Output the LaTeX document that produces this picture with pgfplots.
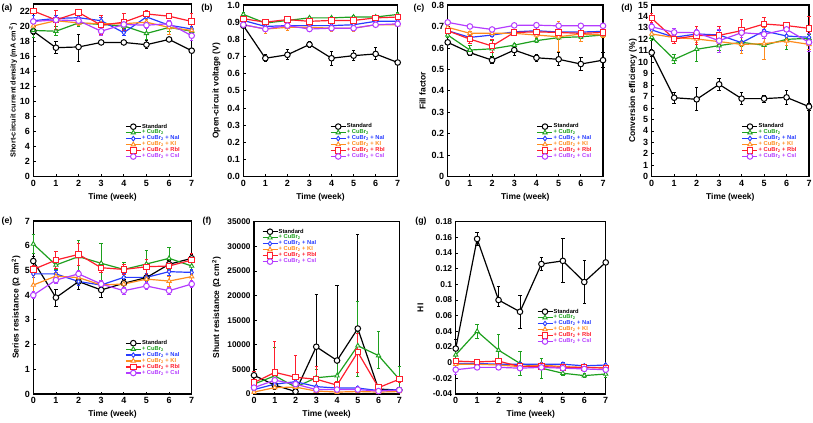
\documentclass[border=0pt]{standalone}
\usepackage{fontspec}
\setmainfont{Liberation Sans}
\usepackage{pgfplots}
\pgfplotsset{compat=1.18}
\definecolor{cstd}{RGB}{0,0,0}
\definecolor{ccub}{RGB}{30,160,30}
\definecolor{cnai}{RGB}{40,60,255}
\definecolor{cki}{RGB}{255,140,30}
\definecolor{crbi}{RGB}{255,30,45}
\definecolor{ccsi}{RGB}{180,60,255}
\pgfplotsset{
  panel/.style={
    scale only axis, clip=false,
    xmin=0, xmax=7, xtick={0,1,2,3,4,5,6,7},
    axis line style={line width=1.4bp},
    tick align=inside, xtick pos=bottom, ytick pos=left,
    major tick length=2.5bp, tick style={line width=0.8bp, black},
    /pgf/number format/assume math mode=true,
    tick label style={font=\bfseries\fontsize{9}{10}\selectfont},
    label style={font=\bfseries\fontsize{8.5}{9}\selectfont},
    xlabel={Time (week)},
    legend cell align=left,
    legend style={draw=none, fill=none, inner sep=0pt, row sep=-0.8bp,
      font=\bfseries\fontsize{5.8}{6.5}\selectfont, anchor=north west,
      nodes={inner sep=0.6bp}},
    legend image code/.code={\draw[mark repeat=2,mark phase=2] plot coordinates {(0bp,0bp)(7.5bp,0bp)(15bp,0bp)};},
    error bars/y dir=both, error bars/y explicit,
    error bars/error bar style={line width=0.9bp, solid},
    error bars/error mark options={rotate=90, mark size=1.7bp, line width=0.9bp},
  },
  sstd/.style={cstd, line width=1.2bp, mark=*, mark size=2.8bp, mark options={fill=white, line width=1bp}},
  scub/.style={ccub, line width=1.2bp, mark=triangle*, mark size=2.5bp, mark options={fill=white, line width=0.9bp}},
  snai/.style={cnai, line width=1.2bp, mark=diamond*, mark size=2.3bp, mark options={fill=white, line width=0.9bp}},
  ski/.style={cki, line width=1.2bp, mark=triangle*, mark size=2.5bp, mark options={fill=white, line width=0.9bp}},
  srbi/.style={crbi, line width=1.2bp, mark=square*, mark size=2.7bp, mark options={fill=white, line width=1bp}},
  scsi/.style={ccsi, line width=1.2bp, mark=*, mark size=2.8bp, mark options={fill=white, line width=1bp}},
}
\newcommand{\leg}{\legend{\textcolor{cstd}{Standard},\textcolor{ccub}{+ CuBr\textsubscript{2}},\textcolor{cnai}{+ CuBr\textsubscript{2} + NaI},\textcolor{cki}{+ CuBr\textsubscript{2} + KI},\textcolor{crbi}{+ CuBr\textsubscript{2} + RbI},\textcolor{ccsi}{+ CuBr\textsubscript{2} + CsI}}}
\begin{document}
\begin{tikzpicture}[x=1bp,y=1bp]
\useasboundingbox (0,0) rectangle (813,422);
\tikzset{plab/.style={font=\bfseries\fontsize{8.8}{9}\selectfont}}
\node[plab] at (7,414) {(a)};
\node[plab] at (207,414) {(b)};
\node[plab] at (419,414) {(c)};
\node[plab] at (627,414) {(d)};
\node[plab] at (7,201) {(e)};
\node[plab] at (207,201) {(f)};
\node[plab] at (421,201) {(g)};
% (a)
\begin{axis}[panel, at={(33.3bp,245.3bp)}, anchor=south west, width=158.4bp, height=172.5bp,
  ymin=0, ymax=23, ytick={0,2,...,22},
  ylabel={Short-circuit current density (mA cm\textsuperscript{-2})},
  ylabel style={at={(axis description cs:-0.128,0.5)}, anchor=center, font=\bfseries\fontsize{7.3}{8}\selectfont},
  legend style={at={(axis description cs:0.579,0.311)}}]
\addplot[sstd] coordinates {(0,19.4)+-(0,0.4) (1,17.2)+-(0,0.8) (2,17.3)+=(0,1.6)-=(0,2.0) (3,17.9)+-(0,0.3) (4,17.9)+-(0,0.2) (5,17.6)+-(0,0.5) (6,18.3)+-(0,0.3) (7,16.8)+-(0,0.3)};
\addplot[scub] coordinates {(0,19.5)+-(0,1.0) (1,19.4)+-(0,0.6) (2,20.5)+-(0,0.5) (3,20.3)+-(0,0.3) (4,20.1)+-(0,0.3) (5,19.1)+-(0,0.8) (6,19.9)+-(0,0.5) (7,19.4)+-(0,0.4)};
\addplot[snai] coordinates {(0,20.8)+-(0,0.7) (1,21.1)+-(0,0.4) (2,21.2)+-(0,0.3) (3,20.8)+-(0,0.4) (4,19.2)+-(0,0.4) (5,21.3)+-(0,0.3) (6,20.2)+-(0,0.4) (7,19.7)+-(0,0.3)};
\addplot[ski] coordinates {(0,20.1)+-(0,0.4) (1,20.8)+-(0,0.3) (2,20.5)+-(0,0.4) (3,20.4)+-(0,0.3) (4,20.4)+-(0,0.3) (5,20.6)+-(0,0.3) (6,19.9)+-(0,0.9) (7,19.5)+-(0,0.4)};
\addplot[srbi] coordinates {(0,22.1)+-(0,0.3) (1,20.9)+-(0,1.3) (2,21.9)+-(0,0.3) (3,20.2)+-(0,1.3) (4,20.6)+-(0,1.1) (5,21.7)+-(0,0.4) (6,21.4)+-(0,0.3) (7,20.7)+-(0,1.0)};
\addplot[scsi] coordinates {(0,20.7)+-(0,0.3) (1,20.9)+-(0,0.3) (2,20.8)+-(0,0.3) (3,19.4)+-(0,0.6) (4,20.3)+-(0,0.3) (5,20.2)+-(0,0.4) (6,20.4)+-(0,0.4) (7,18.8)+-(0,0.6)};
\leg
\end{axis}
% (b)
\begin{axis}[panel, at={(243.3bp,245.3bp)}, anchor=south west, width=154.4bp, height=171.7bp,
  ymin=0, ymax=1, ytick={0,0.1,0.2,0.3,0.4,0.5,0.6,0.7,0.8,0.9,1.0},
  yticklabel style={/pgf/number format/fixed, /pgf/number format/fixed zerofill, /pgf/number format/precision=1},
  ylabel={Open-circuit voltage (V)},
  ylabel style={at={(axis description cs:-0.174,0.5)}, anchor=center},
  legend style={at={(axis description cs:0.561,0.313)}}]
\addplot[sstd] coordinates {(0,0.88)+-(0,0.01) (1,0.69)+-(0,0.02) (2,0.71)+-(0,0.03) (3,0.77)+-(0,0.02) (4,0.69)+-(0,0.04) (5,0.705)+-(0,0.03) (6,0.715)+-(0,0.035) (7,0.665)+-(0,0.01)};
\addplot[scub] coordinates {(0,0.945)+-(0,0.01) (1,0.895)+-(0,0.01) (2,0.91)+-(0,0.01) (3,0.925)+-(0,0.01) (4,0.925)+-(0,0.01) (5,0.93)+-(0,0.01) (6,0.93)+-(0,0.01) (7,0.945)+-(0,0.01)};
\addplot[snai] coordinates {(0,0.91)+-(0,0.008) (1,0.875)+-(0,0.008) (2,0.88)+-(0,0.008) (3,0.88)+-(0,0.008) (4,0.88)+-(0,0.008) (5,0.885)+-(0,0.008) (6,0.905)+-(0,0.008) (7,0.905)+-(0,0.008)};
\addplot[ski] coordinates {(0,0.885)+-(0,0.01) (1,0.86)+-(0,0.025) (2,0.87)+-(0,0.02) (3,0.87)+-(0,0.01) (4,0.865)+-(0,0.02) (5,0.865)+-(0,0.02) (6,0.885)+-(0,0.01) (7,0.885)+-(0,0.01)};
\addplot[srbi] coordinates {(0,0.92)+-(0,0.01) (1,0.9)+-(0,0.01) (2,0.915)+-(0,0.01) (3,0.905)+-(0,0.01) (4,0.91)+-(0,0.01) (5,0.91)+-(0,0.01) (6,0.925)+-(0,0.01) (7,0.93)+-(0,0.01)};
\addplot[scsi] coordinates {(0,0.885)+-(0,0.008) (1,0.86)+-(0,0.008) (2,0.88)+-(0,0.008) (3,0.86)+-(0,0.008) (4,0.865)+-(0,0.008) (5,0.865)+-(0,0.008) (6,0.885)+-(0,0.008) (7,0.89)+-(0,0.008)};
\leg
\end{axis}
% (c)
\begin{axis}[panel, at={(447.7bp,245.3bp)}, anchor=south west, width=155.3bp, height=171.7bp,
  ymin=0, ymax=0.8, ytick={0,0.1,0.2,0.3,0.4,0.5,0.6,0.7,0.8},
  ylabel={Fill factor},
  ylabel style={at={(axis description cs:-0.162,0.5)}, anchor=center},
  legend style={at={(axis description cs:0.573,0.313)}}]
\addplot[sstd] coordinates {(0,0.626)+-(0,0.01) (1,0.578)+-(0,0.015) (2,0.543)+-(0,0.015) (3,0.59)+-(0,0.025) (4,0.554)+-(0,0.015) (5,0.547)+-(0,0.03) (6,0.525)+-(0,0.03) (7,0.543)+-(0,0.035)};
\addplot[scub] coordinates {(0,0.66)+-(0,0.01) (1,0.59)+-(0,0.02) (2,0.596)+-(0,0.04) (3,0.613)+-(0,0.01) (4,0.634)+-(0,0.01) (5,0.648)+-(0,0.01) (6,0.652)+-(0,0.01) (7,0.66)+-(0,0.01)};
\addplot[snai] coordinates {(0,0.68)+-(0,0.008) (1,0.649)+-(0,0.008) (2,0.66)+-(0,0.008) (3,0.675)+-(0,0.008) (4,0.68)+-(0,0.008) (5,0.674)+-(0,0.008) (6,0.674)+-(0,0.008) (7,0.677)+-(0,0.008)};
\addplot[ski] coordinates {(0,0.696)+-(0,0.01) (1,0.668)+-(0,0.01) (2,0.668)+-(0,0.01) (3,0.668)+-(0,0.01) (4,0.66)+-(0,0.01) (5,0.652)+-(0,0.07) (6,0.665)+-(0,0.035) (7,0.66)+-(0,0.01)};
\addplot[srbi] coordinates {(0,0.68)+-(0,0.01) (1,0.641)+-(0,0.02) (2,0.609)+-(0,0.03) (3,0.672)+-(0,0.01) (4,0.675)+-(0,0.01) (5,0.672)+-(0,0.01) (6,0.668)+-(0,0.01) (7,0.672)+-(0,0.01)};
\addplot[scsi] coordinates {(0,0.719)+-(0,0.005) (1,0.70)+-(0,0.005) (2,0.686)+-(0,0.005) (3,0.705)+-(0,0.005) (4,0.706)+-(0,0.005) (5,0.703)+-(0,0.005) (6,0.703)+-(0,0.005) (7,0.703)+-(0,0.005)};
\leg
\end{axis}
% (d)
\begin{axis}[panel, at={(651.7bp,245.3bp)}, anchor=south west, width=157.3bp, height=171.7bp,
  ymin=0, ymax=15, ytick={0,1,...,15},
  ylabel={Conversion efficiency (\%)},
  ylabel style={at={(axis description cs:-0.119,0.5)}, anchor=center},
  legend style={at={(axis description cs:0.572,0.313)}}]
\addplot[sstd] coordinates {(0,10.84)+-(0,0.3) (1,6.9)+-(0,0.5) (2,6.76)+-(0,1.0) (3,8.07)+-(0,0.5) (4,6.82)+-(0,0.5) (5,6.82)+-(0,0.3) (6,6.93)+-(0,0.6) (7,6.12)+-(0,0.3)};
\addplot[scub] coordinates {(0,12.18)+-(0,0.3) (1,10.25)+-(0,0.4) (2,11.13)+-(0,1.1) (3,11.45)+-(0,0.4) (4,11.74)+-(0,0.4) (5,11.48)+-(0,1.2) (6,12.0)+-(0,0.9) (7,12.09)+-(0,0.3)};
\addplot[snai] coordinates {(0,12.82)+-(0,0.3) (1,12.18)+-(0,0.3) (2,12.47)+-(0,0.3) (3,12.38)+-(0,0.4) (4,11.71)+-(0,0.7) (5,12.73)+-(0,0.3) (6,12.29)+-(0,0.4) (7,12.18)+-(0,0.3)};
\addplot[ski] coordinates {(0,12.47)+-(0,0.3) (1,12.15)+-(0,0.3) (2,12.03)+-(0,0.3) (3,11.8)+-(0,0.4) (4,11.56)+-(0,0.8) (5,11.62)+-(0,1.4) (6,11.86)+-(0,0.4) (7,11.56)+-(0,0.4)};
\addplot[srbi] coordinates {(0,13.84)+-(0,0.4) (1,12.03)+-(0,0.4) (2,12.32)+-(0,0.8) (3,12.35)+-(0,0.8) (4,12.76)+-(0,1.0) (5,13.34)+-(0,0.6) (6,13.2)+-(0,0.3) (7,12.96)+-(0,1.0)};
\addplot[scsi] coordinates {(0,13.1)+-(0,0.3) (1,12.61)+-(0,0.3) (2,12.58)+-(0,0.3) (3,11.88)+-(0,1.0) (4,12.58)+-(0,0.4) (5,12.44)+-(0,0.4) (6,12.87)+-(0,0.4) (7,11.74)+-(0,0.8)};
\leg
\end{axis}
% (e)
\begin{axis}[panel, at={(33.3bp,28bp)}, anchor=south west, width=158.4bp, height=173bp,
  ymin=0, ymax=7, ytick={0,1,...,7},
  ylabel={Series resistance (Ω cm\textsuperscript{2})},
  ylabel style={at={(axis description cs:-0.109,0.5)}, anchor=center},
  legend style={at={(axis description cs:0.579,0.315)}}]
\addplot[sstd] coordinates {(0,5.38)+-(0,0.2) (1,3.9)+-(0,0.35) (2,4.55)+-(0,0.3) (3,4.21)+-(0,0.3) (4,4.48)+-(0,0.15) (5,4.71)+-(0,0.15) (6,5.25)+-(0,0.15) (7,5.49)+-(0,0.15)};
\addplot[scub] coordinates {(0,6.07)+-(0,0.4) (1,5.22)+-(0,0.2) (2,5.56)+-(0,0.65) (3,5.29)+-(0,0.8) (4,5.04)+-(0,0.3) (5,5.26)+-(0,0.55) (6,5.49)+-(0,0.45) (7,5.18)+-(0,0.2)};
\addplot[snai] coordinates {(0,4.86)+-(0,0.15) (1,4.86)+-(0,0.15) (2,4.55)+-(0,0.15) (3,4.41)+-(0,0.15) (4,4.72)+-(0,0.15) (5,4.72)+-(0,0.15) (6,4.95)+-(0,0.15) (7,4.92)+-(0,0.1)};
\addplot[ski] coordinates {(0,4.41)+-(0,0.4) (1,4.77)+-(0,0.15) (2,4.71)+-(0,0.15) (3,4.41)+-(0,0.15) (4,4.45)+-(0,0.15) (5,4.65)+-(0,0.15) (6,4.57)+-(0,0.2) (7,4.75)+-(0,0.15)};
\addplot[srbi] coordinates {(0,5.04)+-(0,0.15) (1,5.42)+-(0,0.33) (2,5.65)+-(0,0.45) (3,5.11)+-(0,0.2) (4,5.04)+-(0,0.2) (5,5.15)+-(0,0.3) (6,5.18)+-(0,0.2) (7,5.42)+-(0,0.25)};
\addplot[scsi] coordinates {(0,4.0)+-(0,0.15) (1,4.61)+-(0,0.15) (2,4.86)+-(0,0.15) (3,4.45)+-(0,0.15) (4,4.18)+-(0,0.15) (5,4.37)+-(0,0.15) (6,4.18)+-(0,0.15) (7,4.45)+-(0,0.15)};
\leg
\end{axis}
% (f)
\begin{axis}[panel, at={(254bp,28bp)}, anchor=south west, width=145.3bp, height=172.3bp,
  ymin=0, ymax=35000, ytick={0,5000,10000,15000,20000,25000,30000,35000},
  scaled y ticks=false,
  yticklabel style={/pgf/number format/fixed, /pgf/number format/1000 sep={}, font=\bfseries\fontsize{8.3}{9}\selectfont},
  ylabel={Shunt resistance (Ω cm\textsuperscript{2})},
  ylabel style={at={(axis description cs:-0.258,0.5)}, anchor=center},
  legend style={at={(axis description cs:0.053,0.963)}}]
\addplot[sstd] coordinates {(0,3800)+-(0,800) (1,1800)+-(0,800) (2,500)+-(0,400) (3,9600)+=(0,10600)-=(0,9600) (4,6800)+=(0,15300)-=(0,6800) (5,13300)+=(0,19100)-=(0,9800) (6,1000)+-(0,700) (7,800)+-(0,300)};
\addplot[scub] coordinates {(0,2000)+-(0,500) (1,3700)+=(0,5700)-=(0,2000) (2,1400)+-(0,500) (3,3300)+=(0,1700)-=(0,1500) (4,3700)+=(0,2800)-=(0,2000) (5,9800)+=(0,8900)-=(0,6200) (6,7800)+=(0,5000)-=(0,2700) (7,3000)+=(0,2500)-=(0,2000)};
\addplot[snai] coordinates {(0,900)+-(0,300) (1,2000)+-(0,300) (2,2500)+-(0,300) (3,1500)+-(0,300) (4,1200)+-(0,300) (5,1200)+-(0,300) (6,700)+-(0,300) (7,900)+-(0,300)};
\addplot[ski] coordinates {(0,400)+-(0,200) (1,1300)+-(0,200) (2,1400)+-(0,200) (3,600)+-(0,200) (4,400)+-(0,200) (5,500)+-(0,200) (6,400)+-(0,200) (7,500)+-(0,200)};
\addplot[srbi] coordinates {(0,2300)+=(0,2200)-=(0,1000) (1,4400)+=(0,6200)-=(0,2000) (2,3400)+=(0,4400)-=(0,1500) (3,3000)+=(0,2600)-=(0,1500) (4,1800)+-(0,700) (5,8500)+=(0,3800)-=(0,4200) (6,1300)+-(0,400) (7,3000)+-(0,600)};
\addplot[scsi] coordinates {(0,1300)+-(0,300) (1,2800)+-(0,300) (2,2000)+-(0,300) (3,900)+-(0,300) (4,900)+-(0,300) (5,900)+-(0,300) (6,600)+-(0,300) (7,800)+-(0,300)};
\leg
\end{axis}
% (g)
\begin{axis}[panel, at={(455.7bp,28bp)}, anchor=south west, width=150bp, height=172.3bp,
  ymin=-0.04, ymax=0.18, ytick={-0.04,-0.02,0,0.02,0.04,0.06,0.08,0.1,0.12,0.14,0.16,0.18},
  yticklabel style={/pgf/number format/fixed, font=\bfseries\fontsize{8.5}{9}\selectfont},
  ylabel={HI},
  ylabel style={at={(axis description cs:-0.235,0.5)}, anchor=center},
  legend style={at={(axis description cs:0.54,0.499)}}]
\addplot[sstd] coordinates {(0,0.018)+-(0,0.012) (1,0.158)+-(0,0.008) (2,0.08)+=(0,0.017)-=(0,0.008) (3,0.065)+-(0,0.021) (4,0.126)+-(0,0.008) (5,0.13)+-(0,0.028) (6,0.103)+-(0,0.027) (7,0.128)+-(0,0.003)};
\addplot[scub] coordinates {(0,0.01)+-(0,0.01) (1,0.04)+-(0,0.009) (2,0.016)+=(0,0.02)-=(0,0.016) (3,-0.001)+-(0,0.015) (4,-0.007)+-(0,0.013) (5,-0.0135)+-(0,0.003) (6,-0.0165)+-(0,0.003) (7,-0.0145)+-(0,0.005)};
\addplot[snai] coordinates {(0,-0.001)+-(0,0.002) (1,-0.001)+-(0,0.002) (2,-0.002)+-(0,0.002) (3,-0.002)+-(0,0.002) (4,-0.002)+-(0,0.002) (5,-0.002)+-(0,0.002) (6,-0.004)+-(0,0.002) (7,-0.003)+-(0,0.002)};
\addplot[ski] coordinates {(0,-0.002)+-(0,0.002) (1,-0.002)+-(0,0.002) (2,-0.003)+-(0,0.002) (3,-0.005)+-(0,0.002) (4,-0.003)+-(0,0.002) (5,-0.005)+-(0,0.002) (6,-0.006)+-(0,0.002) (7,-0.006)+-(0,0.002)};
\addplot[srbi] coordinates {(0,0.002)+-(0,0.002) (1,0.001)+-(0,0.002) (2,0.002)+-(0,0.002) (3,-0.005)+-(0,0.002) (4,-0.005)+-(0,0.002) (5,-0.006)+-(0,0.002) (6,-0.006)+-(0,0.002) (7,-0.007)+-(0,0.002)};
\addplot[scsi] coordinates {(0,-0.009)+-(0,0.006) (1,-0.006)+-(0,0.003) (2,-0.006)+-(0,0.003) (3,-0.007)+-(0,0.003) (4,-0.006)+-(0,0.003) (5,-0.007)+-(0,0.003) (6,-0.008)+-(0,0.003) (7,-0.009)+-(0,0.003)};
\leg
\end{axis}
\end{tikzpicture}
\end{document}
